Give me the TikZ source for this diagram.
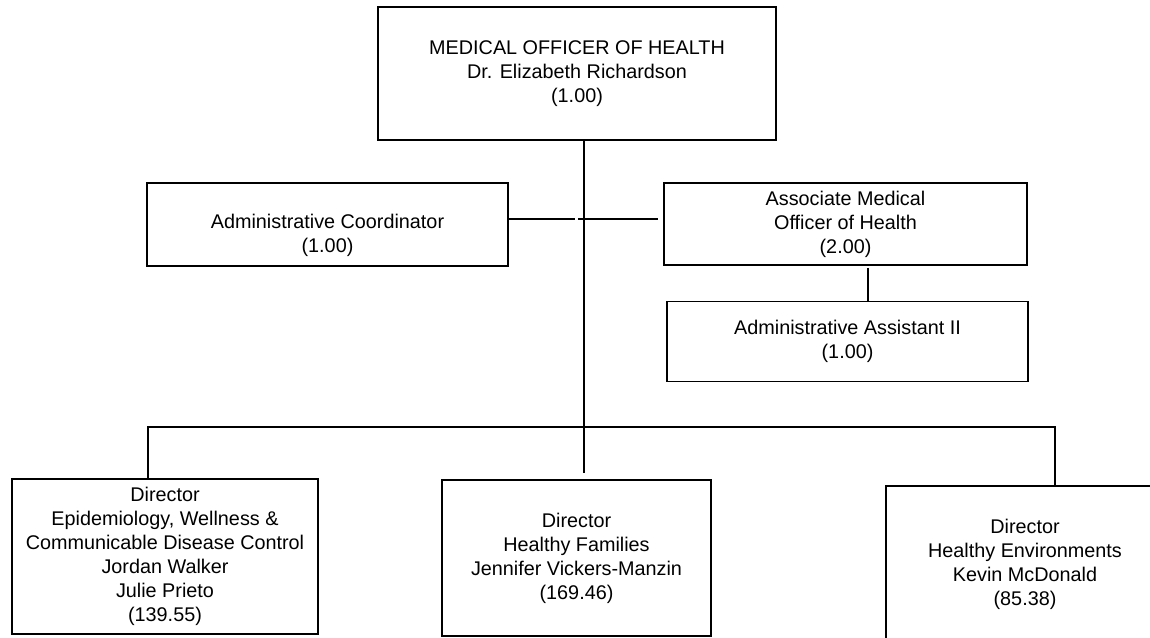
\documentclass[tikz,border=0pt]{standalone}
\usepackage{fontspec}
\setmainfont{Liberation Sans}
\usetikzlibrary{positioning}

\begin{document}
\begin{tikzpicture}[
  x=1pt, y=1pt,
  post/.style={rectangle, draw, line width=1.6pt, align=center, inner sep=0pt, font=\fontsize{19.8}{24}\selectfont},
  link/.style={line width=1.6pt}
]
  \useasboundingbox (0,0) rectangle (1150,637);
  \clip (0,0) rectangle (1150,637);

  \node[post, minimum width=398pt, minimum height=133pt] (moh) at (577,563.5) {MEDICAL OFFICER OF HEALTH\\Dr. Elizabeth Richardson\\(1.00)};
  \node[post, minimum width=361pt, minimum height=83pt] (coord) at (327.5,412.5) {\rule{0pt}{36pt}Administrative Coordinator\\(1.00)};
  \node[post, minimum width=363pt, minimum height=82pt] (assoc) at (845.5,413) {Associate Medical\\Officer of Health\\(2.00)};
  \node[post, minimum width=361pt, minimum height=80pt, below=35pt of assoc, xshift=2pt] (asst) {Administrative Assistant II\\(1.00)};

  % Directors
  \node[post, minimum width=306pt, minimum height=155pt] (epi) at (165,80.5) {Director\\Epidemiology, Wellness \&\\Communicable Disease Control\\Jordan Walker\\Julie Prieto\\(139.55)};
  \node[post, minimum width=269pt, minimum height=156pt] (fam) at (576.5,79) {Director\\Healthy Families\\Jennifer Vickers-Manzin\\(169.46)};
  \node[post, minimum width=278pt, minimum height=156pt] (env) at (1025,73) {Director\\Healthy Environments\\Kevin McDonald\\(85.38)};

  % Trunk and side branches
  \coordinate (trunk) at (584,0);
  \coordinate (trunkend) at (584,164);
  \draw[link] (moh.south -| trunk) -- (trunkend);
  \coordinate (gapl) at (575,418);
  \coordinate (gapr) at (578,418);
  \coordinate (assocl) at (658,418);
  \draw[link] (coord.east |- gapl) -- (gapl);
  \draw[link] (gapr) -- (assocl);
  \coordinate (asstx) at (868,369);
  \draw[link] (asstx) -- (asst.north -| asstx);

  % Bus to directors
  \coordinate (busl) at (148,210);
  \coordinate (busr) at (1055,210);
  \draw[link] (epi.north -| busl) -- (busl) -- (busr) -- (env.north -| busr);
\end{tikzpicture}
\end{document}
